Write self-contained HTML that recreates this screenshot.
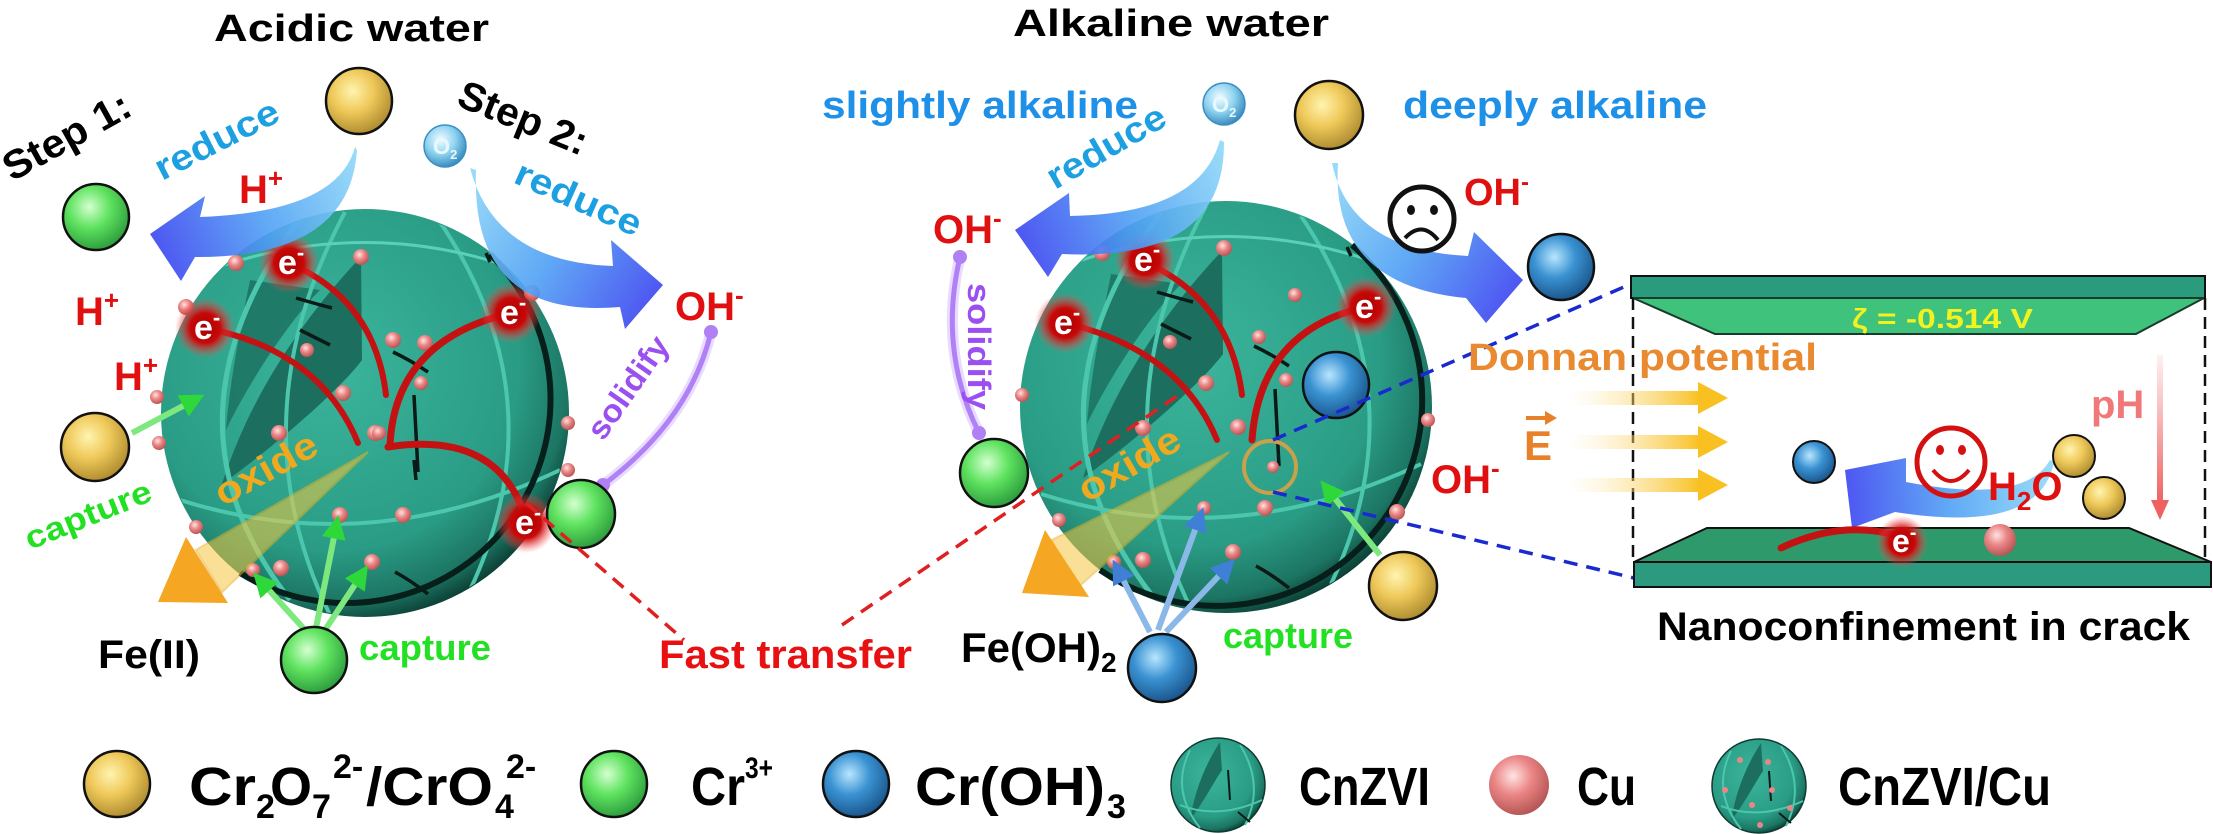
<!DOCTYPE html>
<html><head><meta charset="utf-8"><style>
html,body{margin:0;padding:0;background:#fff;}
svg{display:block;}
text{font-family:"Liberation Sans",Arial,sans-serif;font-weight:bold;}
</style></head><body>
<svg width="2213" height="834" viewBox="0 0 2213 834" xmlns="http://www.w3.org/2000/svg">
<defs>
 <radialGradient id="gY" cx="0.4" cy="0.35" r="0.7"><stop offset="0" stop-color="#fff4b0"/><stop offset="0.45" stop-color="#efc95a"/><stop offset="1" stop-color="#a8862c"/></radialGradient>
 <radialGradient id="gG" cx="0.4" cy="0.35" r="0.7"><stop offset="0" stop-color="#d4ffd0"/><stop offset="0.45" stop-color="#5fe35f"/><stop offset="1" stop-color="#28963a"/></radialGradient>
 <radialGradient id="gB" cx="0.4" cy="0.35" r="0.7"><stop offset="0" stop-color="#b8e6ff"/><stop offset="0.45" stop-color="#3a92d2"/><stop offset="1" stop-color="#174f85"/></radialGradient>
 <radialGradient id="gC" cx="0.4" cy="0.35" r="0.7"><stop offset="0" stop-color="#ffe4e4"/><stop offset="0.45" stop-color="#eb8686"/><stop offset="1" stop-color="#b05050"/></radialGradient>
 <radialGradient id="gO" cx="0.4" cy="0.35" r="0.7"><stop offset="0" stop-color="#f2fcff"/><stop offset="0.5" stop-color="#8ed3f0"/><stop offset="1" stop-color="#2f82b8"/></radialGradient>
 <radialGradient id="gS" cx="0.42" cy="0.38" r="0.65"><stop offset="0" stop-color="#3bb59c"/><stop offset="0.7" stop-color="#2a9c85"/><stop offset="0.9" stop-color="#1c7563"/><stop offset="1" stop-color="#0a3a30"/></radialGradient>
 <radialGradient id="gl"><stop offset="0" stop-color="#a80000"/><stop offset="0.5" stop-color="#c80808"/><stop offset="0.75" stop-color="#e03030" stop-opacity="0.5"/><stop offset="1" stop-color="#ff5050" stop-opacity="0"/></radialGradient>
 <linearGradient id="a1" gradientUnits="userSpaceOnUse" x1="355" y1="150" x2="150" y2="235"><stop offset="0" stop-color="#8ed8f8"/><stop offset="0.5" stop-color="#4fa0f4"/><stop offset="1" stop-color="#3a44f0"/></linearGradient>
 <linearGradient id="a2" gradientUnits="userSpaceOnUse" x1="472" y1="170" x2="663" y2="286"><stop offset="0" stop-color="#8ed8f8"/><stop offset="0.5" stop-color="#4fa0f4"/><stop offset="1" stop-color="#3a44f0"/></linearGradient>
 <linearGradient id="a3" gradientUnits="userSpaceOnUse" x1="1220" y1="140" x2="1015" y2="230"><stop offset="0" stop-color="#8ed8f8"/><stop offset="0.5" stop-color="#4fa0f4"/><stop offset="1" stop-color="#3a44f0"/></linearGradient>
 <linearGradient id="a4" gradientUnits="userSpaceOnUse" x1="1334" y1="163" x2="1523" y2="280"><stop offset="0" stop-color="#8ed8f8"/><stop offset="0.5" stop-color="#4fa0f4"/><stop offset="1" stop-color="#3a44f0"/></linearGradient>
 <linearGradient id="a5" gradientUnits="userSpaceOnUse" x1="2050" y1="462" x2="1845" y2="470"><stop offset="0" stop-color="#8ed8f8"/><stop offset="0.5" stop-color="#4fa0f4"/><stop offset="1" stop-color="#3a44f0"/></linearGradient>
 <linearGradient id="yA" x1="0" y1="0" x2="1" y2="0"><stop offset="0" stop-color="#fde9b0" stop-opacity="0"/><stop offset="1" stop-color="#f8c020"/></linearGradient>
 <linearGradient id="pA" x1="0" y1="0" x2="0" y2="1"><stop offset="0" stop-color="#f07070" stop-opacity="0.1"/><stop offset="1" stop-color="#f06060"/></linearGradient>
 <marker id="mG" viewBox="0 0 10 10" refX="7" refY="5" markerWidth="4" markerHeight="4" orient="auto"><path d="M0,0 L10,5 L0,10 z" fill="#2fd83a"/></marker>
 <marker id="mB" viewBox="0 0 10 10" refX="7" refY="5" markerWidth="4" markerHeight="4" orient="auto"><path d="M0,0 L10,5 L0,10 z" fill="#3f7fd6"/></marker>
 <clipPath id="cL"><circle cx="365" cy="413" r="203"/></clipPath>
 <clipPath id="cM"><circle cx="1226" cy="407" r="205"/></clipPath>
</defs>

<!-- Titles -->
<text x="214" y="41" font-size="38" textLength="275" lengthAdjust="spacingAndGlyphs">Acidic water</text>
<text x="1013" y="36" font-size="38" textLength="316" lengthAdjust="spacingAndGlyphs">Alkaline water</text>

<!-- ================= LEFT PANEL ================= -->
<text transform="translate(12,182) rotate(-29)" font-size="40" textLength="140" lengthAdjust="spacingAndGlyphs">Step 1:</text>
<text transform="translate(162,181) rotate(-27)" font-size="36" fill="#1ca0e2" textLength="135" lengthAdjust="spacingAndGlyphs">reduce</text>
<text x="239" y="203" font-size="40" fill="#e01010">H<tspan font-size="26" dy="-16">+</tspan></text>
<text transform="translate(455,105) rotate(22)" font-size="40" textLength="136" lengthAdjust="spacingAndGlyphs">Step 2:</text>
<text transform="translate(512,182) rotate(24)" font-size="36" fill="#1ca0e2" textLength="135" lengthAdjust="spacingAndGlyphs">reduce</text>
<text x="675" y="320" font-size="40" fill="#e01010">OH<tspan font-size="26" dy="-16">-</tspan></text>
<text x="75" y="325" font-size="40" fill="#e01010">H<tspan font-size="26" dy="-16">+</tspan></text>
<text x="114" y="390" font-size="40" fill="#e01010">H<tspan font-size="26" dy="-16">+</tspan></text>

<circle cx="359" cy="101" r="33" fill="url(#gY)" stroke="#111" stroke-width="2.5"/>
<circle cx="96" cy="217" r="33" fill="url(#gG)" stroke="#111" stroke-width="2.5"/>
<circle cx="445" cy="146" r="21" fill="url(#gO)" stroke="#3a8fc0" stroke-width="1.5"/>
<text x="433" y="154" font-size="22" fill="#e8f8ff">O<tspan font-size="13" dy="5">2</tspan></text>

<!-- left sphere -->
<circle cx="365" cy="413" r="204" fill="url(#gS)"/>
<g clip-path="url(#cL)">
 <path d="M361,257 C320,300 255,380 222,484 C270,450 340,390 362,360 Z" fill="#1c6e5e"/>
 <path d="M250,280 C240,330 230,380 226,430 C250,380 290,320 320,290 Z" fill="#1c6e5e" opacity="0.8"/>
 <path d="M300,218 Q150,420 290,600" fill="none" stroke="#4cc7ae" stroke-width="5"/>
 <path d="M345,212 Q235,420 330,615" fill="none" stroke="#4cc7ae" stroke-width="4"/>
 <path d="M440,222 Q560,400 470,590" fill="none" stroke="#4cc7ae" stroke-width="4"/>
 <path d="M180,500 Q370,560 560,470" fill="none" stroke="#4cc7ae" stroke-width="4"/>
 <path d="M215,268 Q370,215 525,272" fill="none" stroke="#5ad0b8" stroke-width="3"/>
 <path d="M296,298 Q320,305 332,308 M414,395 L418,472 M393,352 Q410,360 428,372 M486,253 L490,262 M395,572 Q410,580 428,594 M414,460 L416,480 M300,330 L330,345" fill="none" stroke="#0a1a16" stroke-width="3.5"/>
</g>
<path d="M490,254 A204 204 0 0 1 240,573" fill="none" stroke="#061f1a" stroke-width="6"/>
<g fill="url(#gC)">
 <circle cx="361" cy="257" r="8"/><circle cx="393" cy="340" r="8"/><circle cx="425" cy="343" r="8"/><circle cx="343" cy="393" r="8"/><circle cx="307" cy="350" r="7"/><circle cx="279" cy="433" r="8"/><circle cx="375" cy="433" r="8"/><circle cx="421" cy="383" r="7"/><circle cx="157" cy="397" r="7"/><circle cx="159" cy="443" r="7"/><circle cx="186" cy="307" r="8"/><circle cx="236" cy="263" r="8"/><circle cx="532" cy="293" r="8"/><circle cx="340" cy="515" r="8"/><circle cx="403" cy="515" r="8"/><circle cx="372" cy="562" r="8"/><circle cx="253" cy="570" r="7"/><circle cx="281" cy="568" r="8"/><circle cx="196" cy="527" r="7"/><circle cx="568" cy="423" r="7"/><circle cx="568" cy="470" r="7"/><circle cx="379" cy="433" r="7"/>
</g>
<g fill="none" stroke-linecap="round">
 <path d="M289,263 Q375,300 386,395" stroke="#c41212" stroke-width="6"/>
 <path d="M205,328 Q320,350 358,443" stroke="#c41212" stroke-width="6"/>
 <path d="M511,313 Q395,340 390,445" stroke="#c41212" stroke-width="7"/>
 <path d="M388,447 Q500,430 526,520" stroke="#c41212" stroke-width="7"/>
</g>
<!-- oxide wedge + arrow -->
<polygon points="368,452 196,550 222,592" fill="#f5c842" opacity="0.55" stroke="#e8b020" stroke-width="2"/>
<polygon points="186,537 158,602 228,603" fill="#f5a623"/>
<text transform="translate(223,507) rotate(-29)" font-size="38" fill="#f0a81e" textLength="112" lengthAdjust="spacingAndGlyphs">oxide</text>

<!-- glows -->
<g>
 <circle cx="289" cy="263" r="30" fill="url(#gl)"/><text x="278" y="274" font-size="34" fill="#fff">e<tspan font-size="22" dy="-14">-</tspan></text>
 <circle cx="205" cy="328" r="30" fill="url(#gl)"/><text x="194" y="339" font-size="34" fill="#fff">e<tspan font-size="22" dy="-14">-</tspan></text>
 <circle cx="511" cy="313" r="30" fill="url(#gl)"/><text x="500" y="324" font-size="34" fill="#fff">e<tspan font-size="22" dy="-14">-</tspan></text>
 <circle cx="526" cy="523" r="30" fill="url(#gl)"/><text x="515" y="534" font-size="34" fill="#fff">e<tspan font-size="22" dy="-14">-</tspan></text>
</g>

<!-- blue arrows left -->
<path d="M355,147 Q338,212 200,217 L205,196 L150,234 L181,281 L195,257 Q350,258 357,150 Z" fill="url(#a1)" opacity="0.9"/>
<path d="M470,168 Q495,262 613,266 L611,240 L663,285 L625,329 L620,307 Q470,320 476,170 Z" fill="url(#a2)" opacity="0.9"/>

<!-- solidify left -->
<path d="M711,332 Q690,420 603,485" fill="none" stroke="#c9a6ff" stroke-width="11" opacity="0.4"/>
<path d="M711,332 Q690,420 603,485" fill="none" stroke="#b080f5" stroke-width="5"/>
<circle cx="711" cy="332" r="7" fill="#b080f5"/><circle cx="603" cy="485" r="7" fill="#b080f5"/>
<text transform="translate(603,442) rotate(-55)" font-size="32" fill="#9b4ff0" textLength="118" lengthAdjust="spacingAndGlyphs">solidify</text>
<circle cx="581" cy="514" r="34" fill="url(#gG)" stroke="#111" stroke-width="2.5"/>

<!-- left capture -->
<circle cx="95" cy="447" r="34" fill="url(#gY)" stroke="#111" stroke-width="2.5"/>
<line x1="132" y1="433" x2="198" y2="398" stroke="#7de87d" stroke-width="6" marker-end="url(#mG)"/>
<text transform="translate(30,550) rotate(-22)" font-size="32" fill="#22e022" textLength="134" lengthAdjust="spacingAndGlyphs">capture</text>
<g stroke="#7de87d" stroke-width="6" marker-end="url(#mG)">
 <line x1="305" y1="630" x2="258" y2="578"/>
 <line x1="316" y1="628" x2="337" y2="522"/>
 <line x1="325" y1="630" x2="364" y2="571"/>
</g>
<circle cx="314" cy="660" r="33" fill="url(#gG)" stroke="#111" stroke-width="2.5"/>
<text x="98" y="668" font-size="40" textLength="102" lengthAdjust="spacingAndGlyphs">Fe(II)</text>
<text x="359" y="660" font-size="36" fill="#22e022" textLength="132" lengthAdjust="spacingAndGlyphs">capture</text>
<text x="659" y="668" font-size="40" fill="#e81010" textLength="253" lengthAdjust="spacingAndGlyphs">Fast transfer</text>

<!-- ================= MIDDLE PANEL ================= -->
<text x="822" y="118" font-size="38" fill="#1e90e8" textLength="316" lengthAdjust="spacingAndGlyphs">slightly alkaline</text>
<text x="1403" y="118" font-size="38" fill="#1e90e8" textLength="304" lengthAdjust="spacingAndGlyphs">deeply alkaline</text>
<circle cx="1224" cy="104" r="21" fill="url(#gO)" stroke="#3a8fc0" stroke-width="1.5"/>
<text x="1212" y="112" font-size="22" fill="#e8f8ff">O<tspan font-size="13" dy="5">2</tspan></text>
<circle cx="1329" cy="115" r="34" fill="url(#gY)" stroke="#111" stroke-width="2.5"/>
<text transform="translate(1055,190) rotate(-30)" font-size="36" fill="#1ca0e2" textLength="132" lengthAdjust="spacingAndGlyphs">reduce</text>
<text x="933" y="243" font-size="40" fill="#e01010">OH<tspan font-size="26" dy="-16">-</tspan></text>

<!-- middle sphere -->
<circle cx="1226" cy="407" r="206" fill="url(#gS)"/>
<g clip-path="url(#cM)">
 <g transform="translate(861,-6)">
 <path d="M361,257 C320,300 255,380 222,484 C270,450 340,390 362,360 Z" fill="#1c6e5e"/>
 <path d="M250,280 C240,330 230,380 226,430 C250,380 290,320 320,290 Z" fill="#1c6e5e" opacity="0.8"/>
 <path d="M300,218 Q150,420 290,600" fill="none" stroke="#4cc7ae" stroke-width="5"/>
 <path d="M345,212 Q235,420 330,615" fill="none" stroke="#4cc7ae" stroke-width="4"/>
 <path d="M440,222 Q560,400 470,590" fill="none" stroke="#4cc7ae" stroke-width="4"/>
 <path d="M180,500 Q370,560 560,470" fill="none" stroke="#4cc7ae" stroke-width="4"/>
 <path d="M215,268 Q370,215 525,272" fill="none" stroke="#5ad0b8" stroke-width="3"/>
 <path d="M296,298 Q320,305 332,308 M414,395 L418,472 M393,352 Q410,360 428,372 M486,253 L490,262 M395,572 Q410,580 428,594 M300,330 L330,345" fill="none" stroke="#0a1a16" stroke-width="3.5"/>
 </g>
</g>
<path d="M1352,245 A206 206 0 0 1 1100,570" fill="none" stroke="#061f1a" stroke-width="6"/>
<g fill="url(#gC)">
 <circle cx="1206" cy="383" r="8"/><circle cx="1143" cy="428" r="8"/><circle cx="1238" cy="427" r="8"/><circle cx="1265" cy="508" r="8"/><circle cx="1273" cy="467" r="6"/><circle cx="1204" cy="508" r="7"/><circle cx="1143" cy="560" r="8"/><circle cx="1114" cy="562" r="7"/><circle cx="1233" cy="552" r="8"/><circle cx="1059" cy="520" r="7"/><circle cx="1022" cy="395" r="7"/><circle cx="1397" cy="512" r="8"/><circle cx="1428" cy="420" r="7"/><circle cx="1170" cy="342" r="7"/><circle cx="1286" cy="380" r="7"/><circle cx="1259" cy="337" r="7"/><circle cx="1224" cy="248" r="8"/><circle cx="1102" cy="253" r="8"/><circle cx="1295" cy="295" r="7"/>
</g>
<g fill="none" stroke-linecap="round">
 <path d="M1145,262 Q1230,300 1242,395" stroke="#c41212" stroke-width="6"/>
 <path d="M1065,323 Q1180,350 1217,440" stroke="#c41212" stroke-width="6"/>
 <path d="M1366,307 Q1260,330 1252,440" stroke="#c41212" stroke-width="7"/>
</g>
<circle cx="1336" cy="385" r="33" fill="url(#gB)" stroke="#111" stroke-width="2.5"/>
<circle cx="1270" cy="467" r="26" fill="none" stroke="#c9a14a" stroke-width="4"/>
<polygon points="1229,452 1052,540 1075,590" fill="#f5c842" opacity="0.55" stroke="#e8b020" stroke-width="2"/>
<polygon points="1045,530 1022,593 1089,597" fill="#f5a623"/>
<text transform="translate(1087,503) rotate(-30)" font-size="38" fill="#f0a81e" textLength="112" lengthAdjust="spacingAndGlyphs">oxide</text>
<g>
 <circle cx="1145" cy="260" r="30" fill="url(#gl)"/><text x="1134" y="271" font-size="34" fill="#fff">e<tspan font-size="22" dy="-14">-</tspan></text>
 <circle cx="1065" cy="323" r="30" fill="url(#gl)"/><text x="1054" y="334" font-size="34" fill="#fff">e<tspan font-size="22" dy="-14">-</tspan></text>
 <circle cx="1366" cy="307" r="30" fill="url(#gl)"/><text x="1355" y="318" font-size="34" fill="#fff">e<tspan font-size="22" dy="-14">-</tspan></text>
</g>

<!-- middle blue arrows -->
<path d="M1220,140 Q1200,214 1070,216 L1069,193 L1015,230 L1048,277 L1062,254 Q1225,262 1224,142 Z" fill="url(#a3)" opacity="0.9"/>
<path d="M1332,163 Q1350,250 1468,256 L1474,232 L1523,280 L1486,323 L1466,298 Q1330,285 1338,163 Z" fill="url(#a4)" opacity="0.9"/>
<circle cx="1422" cy="219" r="32" fill="none" stroke="#111" stroke-width="5"/>
<ellipse cx="1411" cy="210" rx="4" ry="5" fill="#111"/><ellipse cx="1434" cy="210" rx="4" ry="5" fill="#111"/>
<path d="M1405,238 Q1422,220 1438,240" fill="none" stroke="#111" stroke-width="4"/>
<text x="1464" y="205" font-size="38" fill="#e01010">OH<tspan font-size="24" dy="-15">-</tspan></text>
<circle cx="1561" cy="267" r="33" fill="url(#gB)" stroke="#111" stroke-width="2.5"/>

<!-- solidify middle -->
<path d="M960,257 Q938,350 979,433" fill="none" stroke="#c9a6ff" stroke-width="11" opacity="0.4"/>
<path d="M960,257 Q938,350 979,433" fill="none" stroke="#b080f5" stroke-width="5"/>
<circle cx="960" cy="257" r="7" fill="#b080f5"/><circle cx="979" cy="433" r="7" fill="#b080f5"/>
<text transform="translate(968,283) rotate(90)" font-size="32" fill="#9b4ff0" textLength="127" lengthAdjust="spacingAndGlyphs">solidify</text>
<circle cx="994" cy="473" r="34" fill="url(#gG)" stroke="#111" stroke-width="2.5"/>

<!-- middle capture -->
<g stroke="#8ab8e8" stroke-width="6" marker-end="url(#mB)">
 <line x1="1150" y1="632" x2="1116" y2="566"/>
 <line x1="1158" y1="630" x2="1201" y2="514"/>
 <line x1="1166" y1="632" x2="1230" y2="564"/>
</g>
<circle cx="1162" cy="668" r="34" fill="url(#gB)" stroke="#111" stroke-width="2.5"/>
<text x="961" y="662" font-size="42">Fe(OH)<tspan font-size="28" dy="10">2</tspan></text>
<text x="1223" y="648" font-size="36" fill="#22e022" textLength="130" lengthAdjust="spacingAndGlyphs">capture</text>
<line x1="1380" y1="555" x2="1325" y2="486" stroke="#7de87d" stroke-width="6" marker-end="url(#mG)"/>
<circle cx="1403" cy="586" r="34" fill="url(#gY)" stroke="#111" stroke-width="2.5"/>
<text x="1431" y="493" font-size="40" fill="#e01010">OH<tspan font-size="26" dy="-16">-</tspan></text>

<!-- dashed lines -->
<g fill="none" stroke-width="3.5" stroke-dasharray="14 9">
 <line x1="526" y1="503" x2="684" y2="640" stroke="#e02020"/>
 <line x1="842" y1="625" x2="1183" y2="392" stroke="#e02020"/>
 <line x1="1273" y1="440" x2="1633" y2="283" stroke="#1a2ad0"/>
 <line x1="1273" y1="492" x2="1634" y2="578" stroke="#1a2ad0"/>
</g>

<!-- ================= RIGHT PANEL ================= -->
<rect x="1631" y="276" width="574" height="22" fill="#2b9b7e" stroke="#111" stroke-width="2"/>
<polygon points="1633,298 2204,298 2136,334 1715,334" fill="#3ec27c" stroke="#1a3a2a" stroke-width="2"/>
<text x="1852" y="328" font-size="28" fill="#f2f21e" textLength="181" lengthAdjust="spacingAndGlyphs">ζ = -0.514 V</text>
<g stroke="#111" stroke-width="2.5" stroke-dasharray="12 7">
 <line x1="1633" y1="298" x2="1633" y2="560"/>
 <line x1="2205" y1="298" x2="2205" y2="562"/>
</g>
<text x="1468" y="370" font-size="38" fill="#ea8a30" textLength="349" lengthAdjust="spacingAndGlyphs">Donnan potential</text>
<g>
 <rect x="1568" y="391" width="132" height="14" fill="url(#yA)"/><polygon points="1698,382 1728,398 1698,414" fill="#f8c020"/>
 <rect x="1568" y="435" width="132" height="14" fill="url(#yA)"/><polygon points="1698,426 1728,442 1698,458" fill="#f8c020"/>
 <rect x="1568" y="478" width="132" height="14" fill="url(#yA)"/><polygon points="1698,469 1728,485 1698,501" fill="#f8c020"/>
</g>
<text x="1524" y="460" font-size="42" fill="#e8802a">E</text>
<line x1="1526" y1="418" x2="1548" y2="418" stroke="#e8802a" stroke-width="4"/>
<polygon points="1545,411 1557,418 1545,425" fill="#e8802a"/>
<text x="2091" y="418" font-size="40" fill="#f07878">pH</text>
<rect x="2157" y="355" width="6" height="148" fill="url(#pA)"/>
<polygon points="2151,500 2160,520 2169,500" fill="#f06060"/>
<circle cx="1814" cy="462" r="21" fill="url(#gB)" stroke="#111" stroke-width="2"/>
<path d="M2050,460 Q2025,505 1906,482 L1906,458 L1845,470 L1852,528 L1895,512 Q2040,535 2054,462 Z" fill="url(#a5)" opacity="0.9"/>
<circle cx="1951" cy="462" r="34" fill="none" stroke="#d41010" stroke-width="5"/>
<ellipse cx="1940" cy="450" rx="4" ry="5" fill="#d41010"/><ellipse cx="1962" cy="450" rx="4" ry="5" fill="#d41010"/>
<path d="M1933,470 Q1951,492 1969,470" fill="none" stroke="#d41010" stroke-width="4"/>
<text x="1988" y="500" font-size="40" fill="#e01010">H<tspan font-size="26" dy="10">2</tspan><tspan dy="-10">O</tspan></text>
<circle cx="2074" cy="456" r="21" fill="url(#gY)" stroke="#111" stroke-width="2"/>
<circle cx="2104" cy="498" r="21" fill="url(#gY)" stroke="#111" stroke-width="2"/>
<polygon points="1707,528 2129,528 2211,562 1634,562" fill="#2e9a6c" stroke="#111" stroke-width="2"/>
<rect x="1634" y="562" width="577" height="25" fill="#2b9a7e" stroke="#111" stroke-width="2"/>
<path d="M1781,548 Q1840,520 1895,535" fill="none" stroke="#c41212" stroke-width="7" stroke-linecap="round"/>
<circle cx="1902" cy="542" r="26" fill="url(#gl)"/><text x="1892" y="552" font-size="32" fill="#fff">e<tspan font-size="20" dy="-13">-</tspan></text>
<circle cx="2000" cy="540" r="16" fill="url(#gC)"/>
<text x="1657" y="640" font-size="40" textLength="533" lengthAdjust="spacingAndGlyphs">Nanoconfinement in crack</text>

<!-- ================= LEGEND ================= -->
<circle cx="117" cy="784" r="33" fill="url(#gY)" stroke="#111" stroke-width="2.5"/>
<text x="189" y="805" font-size="54" textLength="67" lengthAdjust="spacingAndGlyphs">Cr</text>
<text x="256" y="818" font-size="34">2</text>
<text x="270" y="805" font-size="54">O</text>
<text x="312" y="818" font-size="34">7</text>
<text x="333" y="778" font-size="34">2-</text>
<text x="366" y="805" font-size="54" textLength="127" lengthAdjust="spacingAndGlyphs">/CrO</text>
<text x="495" y="818" font-size="34">4</text>
<text x="506" y="778" font-size="34">2-</text>

<circle cx="614" cy="784" r="33" fill="url(#gG)" stroke="#111" stroke-width="2.5"/>
<text x="691" y="805" font-size="54" textLength="54" lengthAdjust="spacingAndGlyphs">Cr</text>
<text x="745" y="778" font-size="30" textLength="28" lengthAdjust="spacingAndGlyphs">3+</text>

<circle cx="856" cy="784" r="33" fill="url(#gB)" stroke="#111" stroke-width="2.5"/>
<text x="915" y="805" font-size="54" textLength="190" lengthAdjust="spacingAndGlyphs">Cr(OH)</text>
<text x="1107" y="818" font-size="34">3</text>

<circle cx="1218" cy="785" r="47" fill="url(#gS)" stroke="#0e3a30" stroke-width="1.5"/>
<path d="M1220,742 C1205,765 1195,790 1190,820 C1205,800 1215,780 1222,770 Z" fill="#1c6e5e"/>
<path d="M1190,750 Q1170,790 1200,828 M1240,745 Q1265,785 1245,825 M1180,805 Q1218,820 1262,800" fill="none" stroke="#4cc7ae" stroke-width="2"/>
<path d="M1228,770 L1230,800 M1238,812 L1250,822" stroke="#0a1a16" stroke-width="2"/>
<text x="1299" y="805" font-size="54" textLength="131" lengthAdjust="spacingAndGlyphs">CnZVI</text>

<circle cx="1519" cy="785" r="30" fill="url(#gC)"/>
<text x="1577" y="805" font-size="54" textLength="59" lengthAdjust="spacingAndGlyphs">Cu</text>

<circle cx="1759" cy="786" r="47" fill="url(#gS)" stroke="#0e3a30" stroke-width="1.5"/>
<path d="M1761,743 C1746,766 1736,791 1731,821 C1746,801 1756,781 1763,771 Z" fill="#1c6e5e"/>
<path d="M1731,751 Q1711,791 1741,829 M1781,746 Q1806,786 1786,826 M1721,806 Q1759,821 1803,801" fill="none" stroke="#4cc7ae" stroke-width="2"/>
<path d="M1769,771 L1771,801 M1779,813 L1791,823" stroke="#0a1a16" stroke-width="2"/>
<g fill="#eb8686"><circle cx="1740" cy="760" r="3"/><circle cx="1768" cy="762" r="3"/><circle cx="1772" cy="790" r="3"/><circle cx="1752" cy="805" r="3"/><circle cx="1790" cy="808" r="3"/><circle cx="1725" cy="790" r="3"/><circle cx="1760" cy="825" r="3"/></g>
<text x="1838" y="805" font-size="54" textLength="213" lengthAdjust="spacingAndGlyphs">CnZVI/Cu</text>
</svg>
</body></html>
